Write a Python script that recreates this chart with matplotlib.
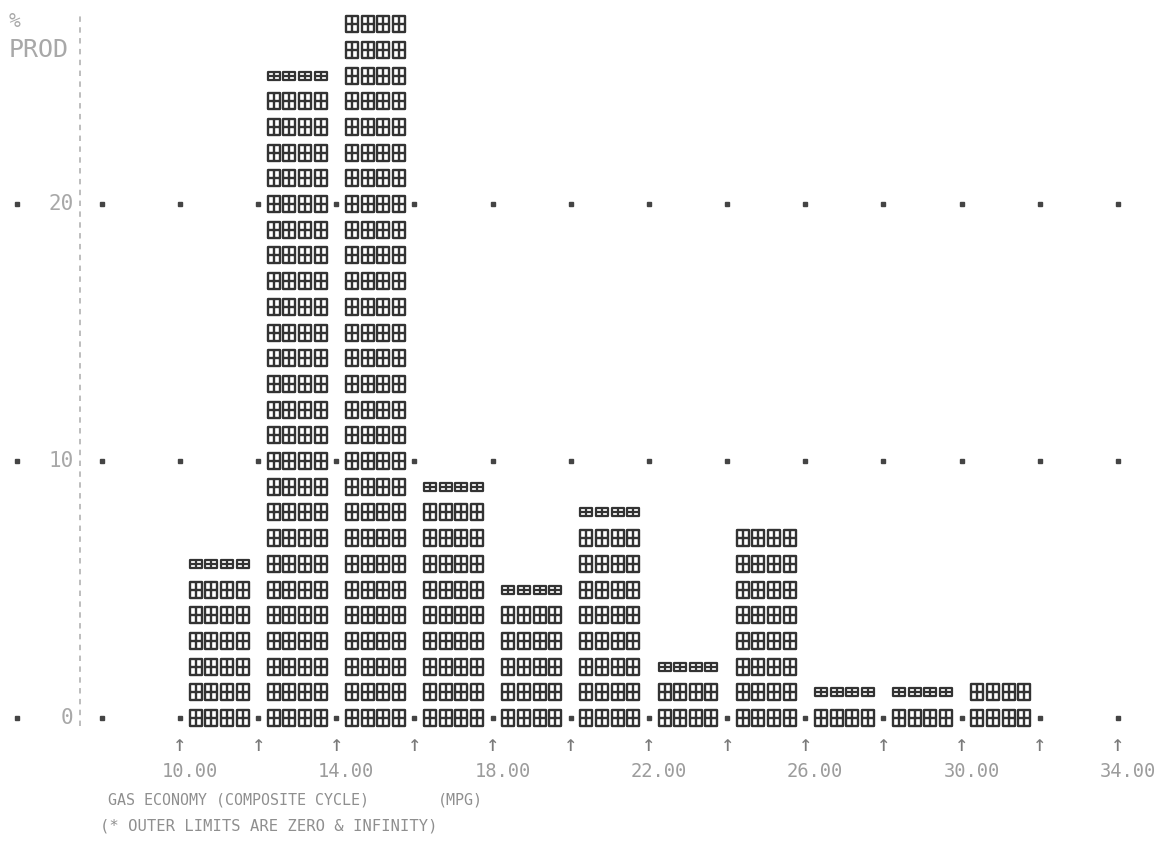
import numpy as np
import matplotlib
matplotlib.use("Agg")
import matplotlib.pyplot as plt
from matplotlib.path import Path

# Share of production (%) in each 2-MPG gas economy class
class_edges = [10, 12, 14, 16, 18, 20, 22, 24, 26, 28, 30, 32, 34]
pct_prod = [6.5, 25.5, 28.0, 9.5, 5.5, 8.5, 2.5, 8.0, 1.5, 1.5, 2.0, 0.0]

y_tick_values = [0, 10, 20]
x_label_values = [10, 14, 18, 22, 26, 30, 34]
x_tick_labels = ["10.00", "14.00", "18.00", "22.00", "26.00", "30.00", "34.00"]

title_line1 = "GAS ECONOMY (COMPOSITE CYCLE)"
title_unit = "(MPG)"
title_line2 = "(* OUTER LIMITS ARE ZERO & INFINITY)"

MONO = "DejaVu Sans Mono"
INK = "#333333"
FAINT = "#9c9c9c"


def cell_marker(w, h):
    """Boxed-cross print cell used to build the histogram columns."""
    x0, x1, y0, y1 = -w / 2, w / 2, -h / 2, h / 2
    verts = [(x0, y0), (x1, y0), (x1, y1), (x0, y1), (x0, y0),
             (0, y0), (0, y1),
             (x0, 0), (x1, 0)]
    codes = [Path.MOVETO, Path.LINETO, Path.LINETO, Path.LINETO, Path.CLOSEPOLY,
             Path.MOVETO, Path.LINETO,
             Path.MOVETO, Path.LINETO]
    return Path(verts, codes)


full_cell = cell_marker(0.74, 1.0)
half_cell = cell_marker(1.0, 0.8)

fig = plt.figure(figsize=(11.61, 8.65), dpi=100)
ax = fig.add_axes([0, 0, 1, 1])
ax.set_axis_off()
ax.set_xlim(5.394, 35.102)
ax.set_ylim(-5.72, 27.94)

# Columns: one print line per percent, half-height cells for a remaining half percent
step = class_edges[1] - class_edges[0]
slots = [step * (k + 1) / 5 for k in range(4)]
fx, fy, hx, hy = [], [], [], []
for left, v in zip(class_edges[:-1], pct_prod):
    full = int(np.floor(v))
    for r in range(full):
        for s in slots:
            fx.append(left + s)
            fy.append(r)
    if v - full >= 0.5:
        for s in slots:
            hx.append(left + s)
            hy.append(full)

ax.plot(fx, fy, linestyle="none", marker=full_cell, ms=12.0,
        mfc="none", mec=INK, mew=1.7)
ax.plot(hx, hy, linestyle="none", marker=half_cell, ms=8.0,
        mfc="none", mec=INK, mew=1.6)

# Dotted reference lines at the labelled percentages
grid_x = [class_edges[0] - step] + class_edges
for yv in y_tick_values:
    ax.plot(grid_x, [yv] * len(grid_x), linestyle="none", marker="s",
            ms=2.9, color="#444444")
    ax.plot([5.83], [yv], linestyle="none", marker="s", ms=2.9, color="#444444")
    ax.text(7.27, yv, str(yv), ha="right", va="center", fontsize=15,
            family=MONO, color="#a8a8a8")

# Vertical axis
ax.plot([7.44, 7.44], [-0.3, 27.3], color="#b8b8b8", lw=1.3,
        linestyle=(0, (3, 3)))
ax.text(5.62, 27.1, "%", ha="left", va="center", fontsize=14,
        family=MONO, color="#a8a8a8")
ax.text(5.62, 26, "PROD", ha="left", va="center", fontsize=18,
        family=MONO, color="#a8a8a8")

# Class boundary arrows and value labels
for e in class_edges:
    ax.text(e, -1.05, "\u2191", ha="center", va="center", fontsize=16,
            family=MONO, color="#7a7a7a")
for v, lab in zip(x_label_values, x_tick_labels):
    ax.text(v + 0.25, -2.1, lab, ha="center", va="center", fontsize=13.5,
            family=MONO, color=FAINT)

# Caption
ax.text(8.15, -3.2, title_line1, ha="left", va="center", fontsize=10.8,
        family=MONO, color="#8f8f8f")
ax.text(16.6, -3.2, title_unit, ha="left", va="center", fontsize=10.8,
        family=MONO, color="#8f8f8f")
ax.text(7.95, -4.2, title_line2, ha="left", va="center", fontsize=11.2,
        family=MONO, color="#8f8f8f")

fig.savefig("out.png", dpi=100, facecolor="white")
